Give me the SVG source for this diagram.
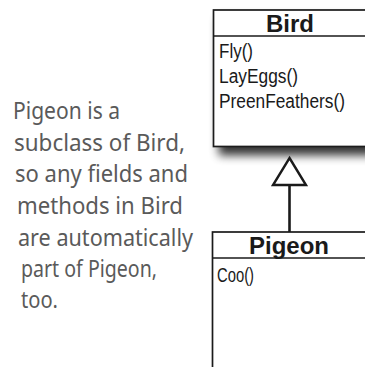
<svg xmlns="http://www.w3.org/2000/svg" width="365" height="367" viewBox="0 0 365 367">
<defs>
<filter id="shadow" x="-20%" y="-20%" width="150%" height="150%">
<feGaussianBlur in="SourceAlpha" stdDeviation="5"/>
<feOffset dx="6" dy="8" result="b"/>
<feComponentTransfer><feFuncA type="linear" slope="0.8"/></feComponentTransfer>
<feMerge><feMergeNode/><feMergeNode in="SourceGraphic"/></feMerge>
</filter>
</defs>
<style>
.box{fill:#fff;stroke:#1a1a1a;stroke-width:1.7}
.sep{stroke:#1a1a1a;stroke-width:1.7}
.title{font-family:"Liberation Sans",Arial,sans-serif;font-weight:bold;font-size:24px;fill:#1a1a1a;text-anchor:middle}
.m{font-family:"Liberation Sans",Arial,sans-serif;font-size:19.5px;fill:#1a1a1a}
.note{font-family:"Noto Sans",sans-serif;font-size:23px;fill:#5a5a5a}
.conn{stroke:#1a1a1a;stroke-width:2.6;fill:none}
.tri{fill:#fff;stroke:#1a1a1a;stroke-width:2.4;stroke-linejoin:miter}
</style>
<rect width="365" height="367" fill="#fff"/>
<g id="note">
<text class="note" x="13" y="119" textLength="107" lengthAdjust="spacingAndGlyphs">Pigeon is a</text>
<text class="note" x="14" y="150.5" textLength="171" lengthAdjust="spacingAndGlyphs">subclass of Bird,</text>
<text class="note" x="15" y="182" textLength="173" lengthAdjust="spacingAndGlyphs">so any fields and</text>
<text class="note" x="17" y="214" textLength="166" lengthAdjust="spacingAndGlyphs">methods in Bird</text>
<text class="note" x="18" y="246" textLength="175" lengthAdjust="spacingAndGlyphs">are automatically</text>
<text class="note" x="21" y="277" textLength="136" lengthAdjust="spacingAndGlyphs">part of Pigeon,</text>
<text class="note" x="21" y="308" textLength="37" lengthAdjust="spacingAndGlyphs">too.</text>
</g>
<g id="bird">
<rect class="box" x="213.5" y="10" width="200" height="136.5" filter="url(#shadow)"/>
<line class="sep" x1="213.5" y1="36" x2="365" y2="36"/>
<text class="title" x="290" y="32">Bird</text>
<text class="m" x="219" y="58" textLength="34" lengthAdjust="spacingAndGlyphs">Fly()</text>
<text class="m" x="219" y="82.5" textLength="79" lengthAdjust="spacingAndGlyphs">LayEggs()</text>
<text class="m" x="219" y="107.5" textLength="126" lengthAdjust="spacingAndGlyphs">PreenFeathers()</text>
</g>
<g id="pigeon">
<rect class="box" x="212.5" y="232" width="200" height="160"/>
<line class="sep" x1="212.5" y1="258" x2="365" y2="258"/>
<text class="title" x="289" y="254">Pigeon</text>
<text class="m" x="217" y="282" textLength="37" lengthAdjust="spacingAndGlyphs">Coo()</text>
</g>
<g id="connectors">
<line class="conn" x1="289.5" y1="185" x2="289.5" y2="232"/>
<polygon class="tri" points="289.5,158 306,185 273,185"/>
</g>
</svg>
